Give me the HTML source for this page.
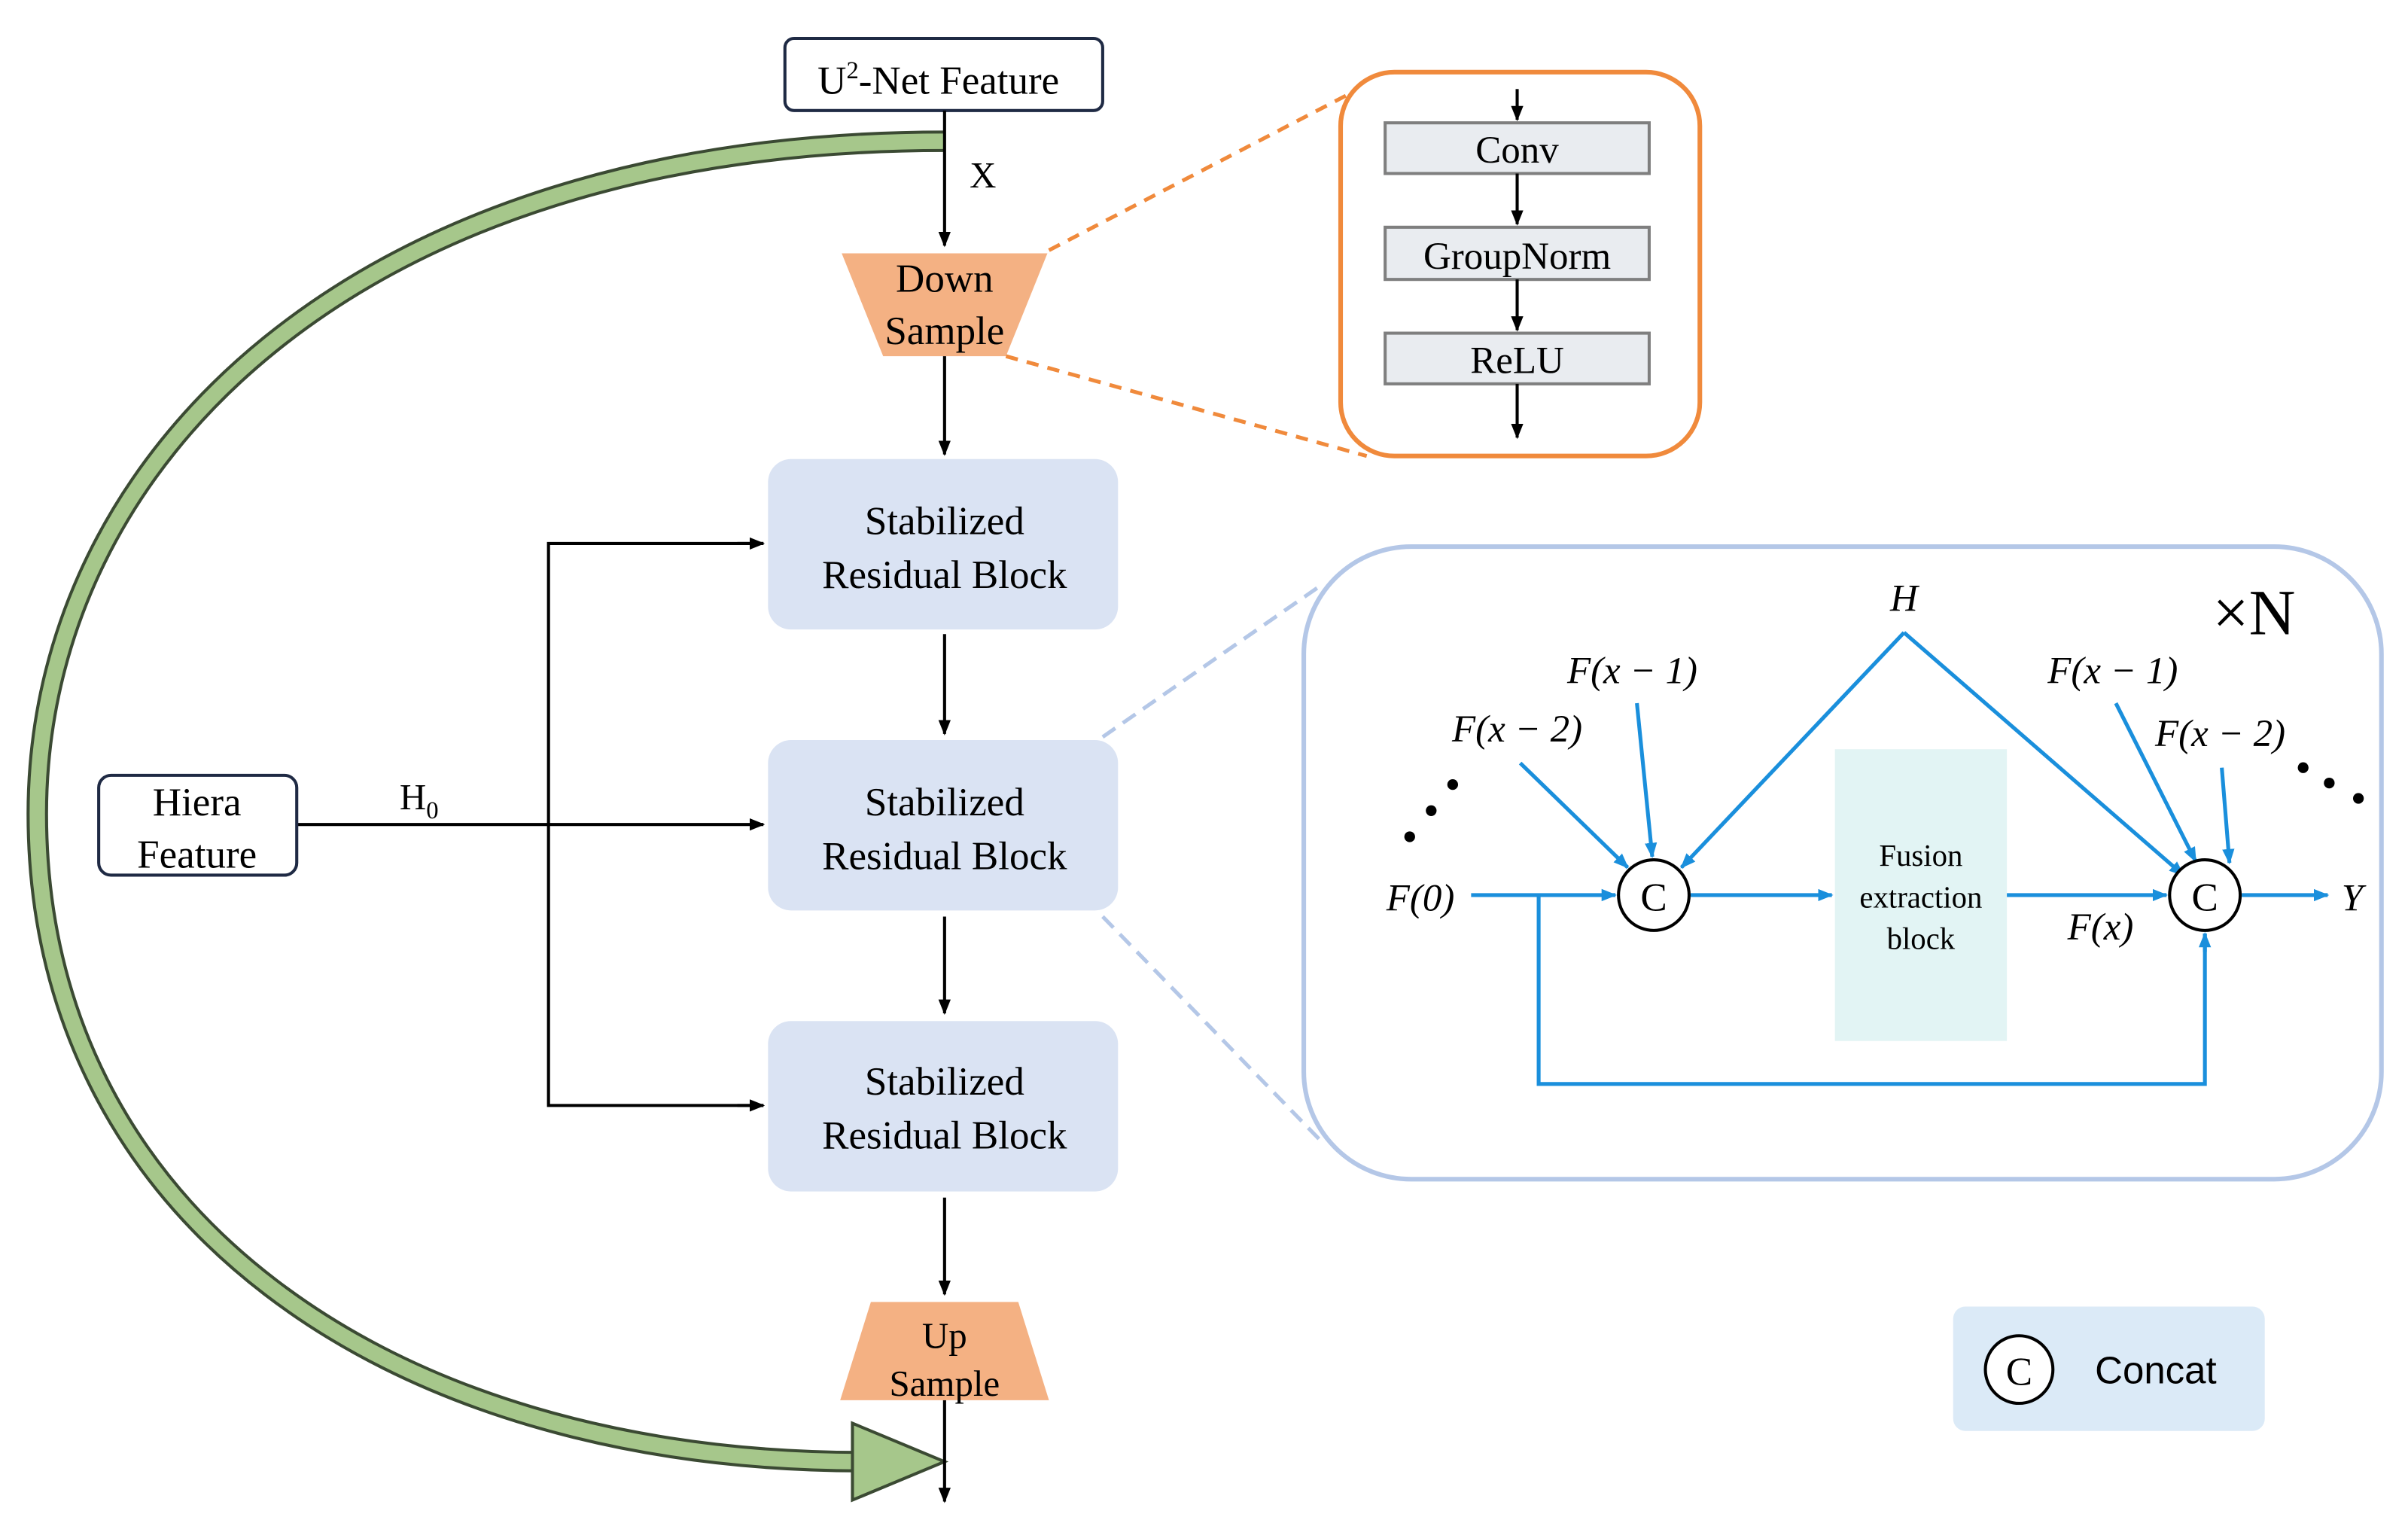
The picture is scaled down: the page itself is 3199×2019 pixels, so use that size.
<!DOCTYPE html>
<html><head><meta charset="utf-8"><style>html,body{margin:0;padding:0;background:#fff}svg{display:block}</style></head><body>
<svg width="3199" height="2019" viewBox="0 0 1568 990" xmlns="http://www.w3.org/2000/svg" font-family="Liberation Serif, serif">
<defs>
<marker id="ak" markerWidth="10" markerHeight="10" refX="9" refY="5" orient="auto" markerUnits="userSpaceOnUse"><path d="M0,1 L10,5 L0,9 Z" fill="#000"/></marker>
<marker id="ab" markerWidth="10" markerHeight="10" refX="9" refY="5" orient="auto" markerUnits="userSpaceOnUse"><path d="M0,1 L10,5 L0,9 Z" fill="#1a8fdc"/></marker>
</defs>
<path d="M615,92 C 230,92 24,300 24,530 C 24,790 250,952 562,952" fill="none" stroke="#3b4a33" stroke-width="14"/>
<path d="M615,92 C 230,92 24,300 24,530 C 24,790 250,952 562,952" fill="none" stroke="#a6c78b" stroke-width="10"/>
<path d="M555,927 L615,952 L555,977 Z" fill="#a6c78b" stroke="#3b4a33" stroke-width="2"/>
<rect x="511" y="25" width="207" height="47" rx="6" fill="#fff" stroke="#1f2a44" stroke-width="2"/>
<text x="611" y="61" font-size="26" text-anchor="middle">U<tspan font-size="16" dy="-10">2</tspan><tspan dy="10">-Net Feature</tspan></text>
<line x1="615" y1="72" x2="615" y2="160" stroke="#000" stroke-width="2" marker-end="url(#ak)"/>
<text x="640" y="122" font-size="24" text-anchor="middle">X</text>
<path d="M548,165 L682,165 L655,232 L575,232 Z" fill="#f4b183"/>
<text x="615" y="190" font-size="26" text-anchor="middle">Down</text>
<text x="615" y="224" font-size="26" text-anchor="middle">Sample</text>
<line x1="615" y1="232" x2="615" y2="296" stroke="#000" stroke-width="2" marker-end="url(#ak)"/>
<g font-size="26" text-anchor="middle">
<rect x="500" y="299" width="228" height="111" rx="15" fill="#dae3f3"/>
<text x="615" y="348">Stabilized</text><text x="615" y="383">Residual Block</text>
<rect x="500" y="482" width="228" height="111" rx="15" fill="#dae3f3"/>
<text x="615" y="531">Stabilized</text><text x="615" y="566">Residual Block</text>
<rect x="500" y="665" width="228" height="111" rx="15" fill="#dae3f3"/>
<text x="615" y="713">Stabilized</text><text x="615" y="748">Residual Block</text>
</g>
<g stroke="#000" stroke-width="2" fill="none">
<line x1="615" y1="413" x2="615" y2="478" marker-end="url(#ak)"/>
<line x1="615" y1="597" x2="615" y2="660" marker-end="url(#ak)"/>
<line x1="615" y1="780" x2="615" y2="843" marker-end="url(#ak)"/>
<line x1="615" y1="912" x2="615" y2="978" marker-end="url(#ak)"/>
<line x1="193" y1="537" x2="497" y2="537" marker-end="url(#ak)"/>
<polyline points="497,354 357,354 357,720 497,720"/>
<line x1="480" y1="354" x2="497" y2="354" marker-end="url(#ak)"/>
<line x1="480" y1="720" x2="497" y2="720" marker-end="url(#ak)"/>
</g>
<path d="M567,848 L663,848 L683,912 L547,912 Z" fill="#f4b183"/>
<text x="615" y="878" font-size="24" text-anchor="middle">Up</text>
<text x="615" y="909" font-size="24" text-anchor="middle">Sample</text>
<rect x="64" y="505" width="129" height="65" rx="8" fill="#fff" stroke="#1f2a44" stroke-width="2"/>
<text x="128" y="531" font-size="26" text-anchor="middle">Hiera</text>
<text x="128" y="565" font-size="26" text-anchor="middle">Feature</text>
<text x="260" y="527" font-size="24">H<tspan font-size="16" dy="6">0</tspan></text>
<line x1="683" y1="163" x2="877" y2="62" stroke="#f08a3c" stroke-width="2.5" stroke-dasharray="8,6"/>
<line x1="655" y1="232" x2="890" y2="297" stroke="#f08a3c" stroke-width="2.5" stroke-dasharray="8,6"/>
<rect x="873" y="47" width="234" height="250" rx="35" fill="#fff" stroke="#f08a3c" stroke-width="3"/>
<g fill="#e9ecf0" stroke="#7f7f7f" stroke-width="2">
<rect x="902" y="80" width="172" height="33"/><rect x="902" y="148" width="172" height="34"/><rect x="902" y="217" width="172" height="33"/>
</g>
<g font-size="25" text-anchor="middle"><text x="988" y="106">Conv</text><text x="988" y="175">GroupNorm</text><text x="988" y="243">ReLU</text></g>
<g stroke="#000" stroke-width="2">
<line x1="988" y1="58" x2="988" y2="78" marker-end="url(#ak)"/>
<line x1="988" y1="113" x2="988" y2="146" marker-end="url(#ak)"/>
<line x1="988" y1="182" x2="988" y2="215" marker-end="url(#ak)"/>
<line x1="988" y1="250" x2="988" y2="285" marker-end="url(#ak)"/>
</g>
<line x1="718" y1="480" x2="862" y2="380" stroke="#b4c7e7" stroke-width="2.5" stroke-dasharray="10,6"/>
<line x1="718" y1="597" x2="862" y2="745" stroke="#b4c7e7" stroke-width="2.5" stroke-dasharray="10,6"/>
<rect x="849" y="356" width="702" height="412" rx="70" fill="#fff" stroke="#b4c7e7" stroke-width="3"/>
<text x="1468" y="413" font-size="42" text-anchor="middle">×N</text>
<rect x="1195" y="488" width="112" height="190" fill="#e2f4f4"/>
<g font-size="20" text-anchor="middle"><text x="1251" y="564">Fusion</text><text x="1251" y="591">extraction</text><text x="1251" y="618">block</text></g>
<g stroke="#1a8fdc" stroke-width="2.5" fill="none">
<line x1="1240" y1="412" x2="1095" y2="565" marker-end="url(#ab)"/>
<line x1="1240" y1="412" x2="1422" y2="570" marker-end="url(#ab)"/>
<line x1="958" y1="583" x2="1052" y2="583" marker-end="url(#ab)"/>
<polyline points="1002,583 1002,706 1436,706 1436,608"/>
<line x1="1436" y1="620" x2="1436" y2="608" marker-end="url(#ab)"/>
<line x1="1066" y1="458" x2="1076" y2="558" marker-end="url(#ab)"/>
<line x1="990" y1="497" x2="1060" y2="565" marker-end="url(#ab)"/>
<line x1="1101" y1="583" x2="1193" y2="583" marker-end="url(#ab)"/>
<line x1="1307" y1="583" x2="1411" y2="583" marker-end="url(#ab)"/>
<line x1="1378" y1="458" x2="1430" y2="561" marker-end="url(#ab)"/>
<line x1="1447" y1="500" x2="1452" y2="562" marker-end="url(#ab)"/>
<line x1="1460" y1="583" x2="1516" y2="583" marker-end="url(#ab)"/>
</g>
<circle cx="1077" cy="583" r="23" fill="#fff" stroke="#000" stroke-width="2"/>
<circle cx="1436" cy="583" r="23" fill="#fff" stroke="#000" stroke-width="2"/>
<text x="1077" y="593" font-size="26" text-anchor="middle">C</text>
<text x="1436" y="593" font-size="26" text-anchor="middle">C</text>
<g font-size="25" font-style="italic" text-anchor="middle">
<text x="1240" y="398">H</text>
<text x="1063" y="445">F(x − 1)</text>
<text x="988" y="483">F(x − 2)</text>
<text x="1376" y="445">F(x − 1)</text>
<text x="1446" y="486">F(x − 2)</text>
<text x="925" y="593">F(0)</text>
<text x="1368" y="612">F(x)</text>
<text x="1532" y="593">Y</text>
</g>
<g fill="#000"><circle cx="918" cy="545" r="3.5"/><circle cx="932" cy="528" r="3.5"/><circle cx="946" cy="511" r="3.5"/>
<circle cx="1500" cy="500" r="3.5"/><circle cx="1517" cy="510" r="3.5"/><circle cx="1536" cy="520" r="3.5"/></g>
<rect x="1272" y="851" width="203" height="81" rx="8" fill="#dbeaf7"/>
<circle cx="1315" cy="892" r="22" fill="#fff" stroke="#000" stroke-width="2"/>
<text x="1315" y="902" font-size="26" text-anchor="middle">C</text>
<text x="1404" y="901" font-size="25" text-anchor="middle" font-family="Liberation Sans, sans-serif">Concat</text>
</svg>
</body></html>
